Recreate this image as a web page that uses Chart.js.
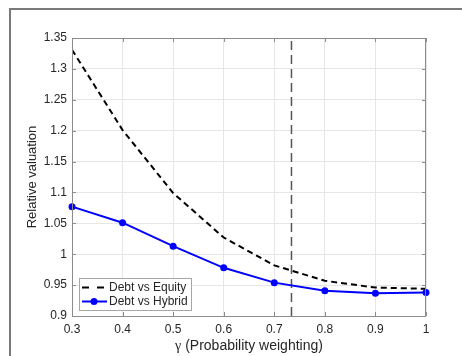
<!DOCTYPE html>
<html lang="en">
<head>
    <meta charset="UTF-8">
    <title>Relative valuation vs probability weighting</title>
    <script src="https://cdn.jsdelivr.net/npm/chart.js"></script>
    <style>
        body { margin: 0; background: #fff; }
        #frame {
            position: absolute; left: 9px; top: 8px; width: 600px; height: 600px;
            border-left: 2px solid #7a7a7a; border-top: 2px solid #7a7a7a;
        }
        #wrap { position: absolute; left: 0; top: 0; width: 462px; height: 356px; }
    </style>
</head>
<body>
    <div id="frame"></div>
    <div id="wrap"><canvas id="chart" width="462" height="356"></canvas></div>

    <script>
        // data
        const gammaValues = [0.3, 0.4, 0.5, 0.6, 0.7, 0.8, 0.9, 1.0];
        const debtVsEquity = [1.331, 1.201, 1.099, 1.027, 0.982, 0.957, 0.946, 0.944];
        const debtVsHybrid = [1.077, 1.051, 1.013, 0.978, 0.954, 0.941, 0.937, 0.938];
        const markerGamma = [0.734, 0.734];
        const markerSpan = [0.9, 1.35];
        const xTicks = [0.3, 0.4, 0.5, 0.6, 0.7, 0.8, 0.9, 1];
        const yTicks = [0.9, 0.95, 1, 1.05, 1.1, 1.15, 1.2, 1.25, 1.3, 1.35];

        const axisColor = '#8c8c8c';
        const textColor = '#262626';
        const sans = '"Liberation Sans", Arial, Helvetica, sans-serif';

        const fmt = v => String(Number(v.toFixed(2)));

        // box, inside ticks, axis titles and legend, drawn the MATLAB way
        const matlabLook = {
            id: 'matlabLook',
            afterDraw(chart) {
                const { ctx, chartArea: a, scales } = chart;
                const tl = 4;
                ctx.save();
                ctx.strokeStyle = axisColor;
                ctx.lineWidth = 1;
                ctx.strokeRect(a.left + 0.5, a.top + 0.5, a.right - a.left - 1, a.bottom - a.top);
                ctx.beginPath();
                xTicks.forEach(v => {
                    const x = Math.round(scales.x.getPixelForValue(v)) + 0.5;
                    ctx.moveTo(x, a.bottom); ctx.lineTo(x, a.bottom - tl);
                    ctx.moveTo(x, a.top); ctx.lineTo(x, a.top + tl);
                });
                yTicks.forEach(v => {
                    const y = Math.round(scales.y.getPixelForValue(v)) + 0.5;
                    ctx.moveTo(a.left, y); ctx.lineTo(a.left + tl, y);
                    ctx.moveTo(a.right, y); ctx.lineTo(a.right - tl, y);
                });
                ctx.stroke();

                // x title: greek gamma in serif, rest in sans
                ctx.fillStyle = textColor;
                ctx.textBaseline = 'alphabetic';
                const g = 'γ', rest = ' (Probability weighting)';
                ctx.font = '14px "Liberation Serif", "DejaVu Serif", serif';
                const gw = ctx.measureText(g).width;
                ctx.font = '14px ' + sans;
                const rw = ctx.measureText(rest).width;
                let x0 = (a.left + a.right) / 2 - (gw + rw) / 2;
                ctx.font = '14px "Liberation Serif", "DejaVu Serif", serif';
                ctx.textAlign = 'left';
                ctx.fillText(g, x0, 350);
                ctx.font = '14px ' + sans;
                ctx.fillText(rest, x0 + gw, 350);

                // y title
                ctx.save();
                ctx.translate(32, (a.top + a.bottom) / 2);
                ctx.rotate(-Math.PI / 2);
                ctx.textAlign = 'center';
                ctx.textBaseline = 'middle';
                ctx.font = '13px ' + sans;
                ctx.fillText('Relative valuation', 0, 0);
                ctx.restore();

                // legend
                const lx = 79, ly = 278, lw = 112, lh = 32;
                ctx.fillStyle = '#fff';
                ctx.fillRect(lx, ly, lw, lh);
                ctx.strokeStyle = '#a6a6a6';
                ctx.strokeRect(lx + 0.5, ly + 0.5, lw, lh);
                const rows = chart.data.datasets.filter(d => d.label);
                rows.forEach((d, i) => {
                    const y = ly + 9.5 + i * 14;
                    ctx.strokeStyle = d.borderColor;
                    ctx.lineWidth = d.borderWidth;
                    ctx.setLineDash(d.borderDash ? [7, 8] : []);
                    ctx.beginPath();
                    ctx.moveTo(lx + 3, y); ctx.lineTo(lx + (d.borderDash ? 25 : 28), y);
                    ctx.stroke();
                    ctx.setLineDash([]);
                    if (d.pointRadius) {
                        ctx.fillStyle = d.pointBackgroundColor;
                        ctx.beginPath();
                        ctx.arc(lx + 15, y, d.pointRadius, 0, Math.PI * 2);
                        ctx.fill();
                    }
                    ctx.fillStyle = textColor;
                    ctx.font = '12px ' + sans;
                    ctx.textAlign = 'left';
                    ctx.textBaseline = 'middle';
                    ctx.fillText(d.label, lx + 30, y);
                });
                ctx.restore();
            }
        };

        new Chart(document.getElementById('chart'), {
            type: 'line',
            data: {
                datasets: [
                    {
                        label: 'Debt vs Equity',
                        data: gammaValues.map((x, i) => ({ x, y: debtVsEquity[i] })),
                        borderColor: '#000',
                        borderWidth: 2,
                        borderDash: [6, 4],
                        pointRadius: 0,
                        tension: 0
                    },
                    {
                        label: 'Debt vs Hybrid',
                        data: gammaValues.map((x, i) => ({ x, y: debtVsHybrid[i] })),
                        borderColor: '#0000ff',
                        borderWidth: 2,
                        pointRadius: 3.5,
                        pointBackgroundColor: '#0000ff',
                        pointBorderColor: '#0000ff',
                        pointBorderWidth: 0,
                        tension: 0,
                        clip: false
                    },
                    {
                        label: '',
                        data: markerGamma.map((x, i) => ({ x, y: markerSpan[i] })),
                        borderColor: '#555',
                        borderWidth: 1.5,
                        borderDash: [9, 5],
                        pointRadius: 0
                    }
                ]
            },
            options: {
                responsive: false,
                animation: false,
                events: [],
                layout: { padding: { top: 38, right: 36, left: 0, bottom: 0 } },
                plugins: { legend: { display: false }, tooltip: { enabled: false } },
                scales: {
                    x: {
                        type: 'linear',
                        min: 0.3, max: 1,
                        afterBuildTicks: s => { s.ticks = xTicks.map(v => ({ value: v })); },
                        afterFit: s => { s.height = 40; },
                        grid: { color: '#e6e6e6', drawTicks: false },
                        border: { display: false },
                        ticks: {
                            padding: 6, color: textColor, maxRotation: 0,
                            font: { family: sans, size: 12 },
                            callback: v => fmt(v)
                        }
                    },
                    y: {
                        min: 0.9, max: 1.35,
                        afterBuildTicks: s => { s.ticks = yTicks.map(v => ({ value: v })); },
                        afterFit: s => { s.width = 72; },
                        grid: { color: '#e6e6e6', drawTicks: false },
                        border: { display: false },
                        ticks: {
                            padding: 5, color: textColor,
                            font: { family: sans, size: 12 },
                            callback: v => fmt(v)
                        }
                    }
                }
            },
            plugins: [matlabLook]
        });
    </script>
</body>
</html>
